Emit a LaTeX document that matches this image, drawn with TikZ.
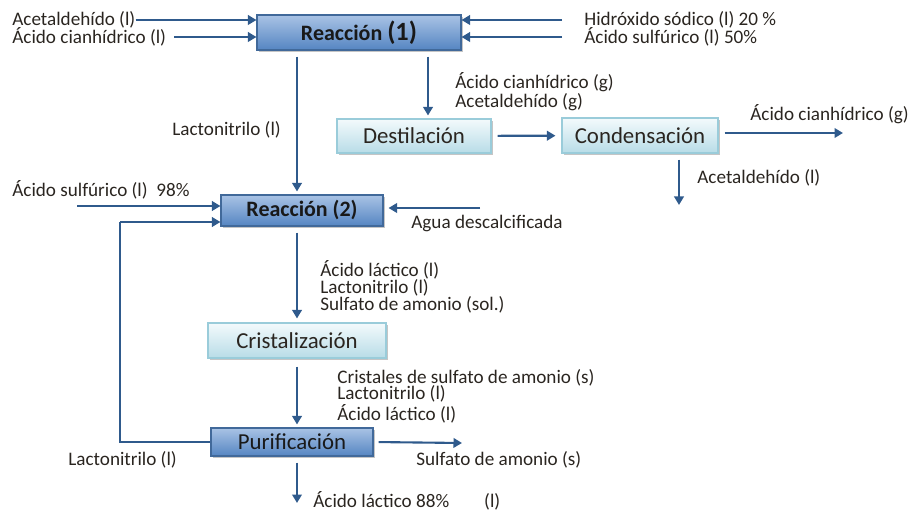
\documentclass[tikz,border=0pt]{standalone}
\usepackage{fontspec}
\setmainfont{Carlito}
\usetikzlibrary{arrows.meta,shadows}
\definecolor{cArr}{HTML}{2F5A8C}
\definecolor{cTop}{HTML}{A9C3E5}
\definecolor{cBot}{HTML}{5585C2}
\definecolor{cEdge}{HTML}{41699A}
\definecolor{cLTop}{HTML}{F3FAFC}
\definecolor{cLBot}{HTML}{B8DCE7}
\definecolor{cLEdge}{HTML}{9ACCDA}
\definecolor{cTxt}{HTML}{2A2520}
\tikzset{
  box/.style={line width=0.6pt, inner sep=0pt, align=center,
    drop shadow={shadow xshift=1pt, shadow yshift=-1.2pt, fill=black!45}},
  proc/.style={box, draw=cEdge, top color=cTop, bottom color=cBot,
    text=black!90, font=\fontsize{12.5}{14}\selectfont\bfseries},
  unit/.style={box, draw=cLEdge, top color=cLTop, bottom color=cLBot,
    text=cTxt, font=\fontsize{13}{15}\selectfont},
  lbl/.style={font=\fontsize{10.9}{9.6}\selectfont, text=cTxt, inner sep=0pt,
    align=left, anchor=west},
  flow/.style={-{Triangle[length=1.7mm,width=1.9mm]}, line width=1.2pt, draw=cArr},
  pipe/.style={line width=1.2pt, draw=cArr},
}
\begin{document}
\begin{tikzpicture}[x=0.2mm, y=-0.2mm]
  \useasboundingbox (0,0) rectangle (921,512);
  % --- units ---
  \node[proc, minimum width=40.8mm, minimum height=7mm] (r1) at (359,32.5)
    {Reacción {\fontsize{15}{15}\selectfont(1)}};
  \node[proc, minimum width=32.4mm, minimum height=6.2mm] (r2) at (302,210.5)
    {Reacción (2)};
  \node[unit, minimum width=30.8mm, minimum height=6.8mm] (des) at (414,136)
    {Destilación};
  \node[unit, minimum width=31.2mm, minimum height=7mm] (con) at (640,135.5)
    {Condensación};
  \node[unit, minimum width=35.6mm, minimum height=7mm] (cri) at (297,340.5)
    {Cristalización};
  \node[proc, font=\fontsize{13}{15}\selectfont, minimum width=32.4mm,
    minimum height=5.6mm] (pur) at (292,442) {Purificación};
  % --- stream labels ---
  \node[lbl] (acet) at (12,20) {Acetaldehído (l)};
  \node[lbl] (cian) at (12,37) {Ácido cianhídrico (l)};
  \node[lbl] (naoh) at (584,20) {Hidróxido sódico (l) 20 \%};
  \node[lbl] (h2so) at (584,37) {Ácido sulfúrico (l) 50\%};
  \node[lbl] (lac1) at (172,130) {Lactonitrilo (l)};
  \node[lbl] (gas)  at (455,92) {Ácido cianhídrico (g)\\Acetaldehído (g)};
  \node[lbl] (hcn)  at (750,114) {Ácido cianhídrico (g)};
  \node[lbl] (acl)  at (697,178) {Acetaldehído (l)};
  \node[lbl] (h98)  at (12,190) {Ácido sulfúrico (l)\ \ 98\%};
  \node[lbl] (agua) at (411,223) {Agua descalcificada};
  \node[lbl] (mix1) at (320,287)
    {Ácido láctico (l)\\Lactonitrilo (l)\\Sulfato de amonio (sol.)};
  \node[lbl] (mix2) at (337,396)
    {Cristales de sulfato de amonio (s)\\Lactonitrilo (l)\\Ácido láctico (l)};
  \node[lbl] (lac2) at (68,460) {Lactonitrilo (l)};
  \node[lbl] (sulf) at (416,460) {Sulfato de amonio (s)};
  \node[lbl] (prod) at (313,501) {Ácido láctico 88\%\hspace{7mm}(l)};
  % --- helper points ---
  \coordinate (xa) at (297,0);
  \coordinate (xb) at (428,0);
  \coordinate (xc) at (679,0);
  \coordinate (hcnout) at (843,133);
  \coordinate (aclout) at (679,205);
  \coordinate (in98) at (77,206);
  \coordinate (inagua) at (480,208);
  \coordinate (loop) at (120,222);
  \coordinate (sulfout) at (462,443);
  \coordinate (prodout) at (297,503);
  % --- feeds to reaction 1 ---
  \draw[flow] (acet.east) -- (r1.west |- acet.east);
  \draw[flow] ([xshift=1.6mm]cian.east) -- (r1.west |- cian.east);
  \draw[flow] ([xshift=-4.4mm]naoh.west) -- (r1.east |- naoh.west);
  \draw[flow] ([xshift=-4.4mm]h2so.west) -- (r1.east |- h2so.west);
  % --- main line ---
  \draw[flow, shorten <=1.2mm, shorten >=0.6mm] (r1.south -| xa) -- (r2.north -| xa);
  \draw[flow, shorten <=1.2mm, shorten >=0.6mm] (r1.south -| xb) -- (des.north -| xb);
  \draw[flow, shorten <=1.2mm, shorten >=1.2mm] (des) -- (con);
  \draw[flow, shorten <=1.2mm] (con.east |- hcnout) -- (hcnout);
  \draw[flow, shorten <=1.2mm] (con.south -| xc) -- (aclout);
  \draw[flow] (in98) -- (r2.west |- in98);
  \draw[flow, shorten >=1mm] (inagua) -- (r2.east |- inagua);
  \draw[flow, shorten <=1.2mm, shorten >=0.8mm] (r2.south -| xa) -- (cri.north -| xa);
  \draw[flow, shorten <=1.6mm, shorten >=0.6mm] (cri.south -| xa) -- (pur.north -| xa);
  % --- recycle ---
  \draw[pipe] (pur.west) -| (loop);
  \draw[flow] (loop) -- (r2.west |- loop);
  % --- products ---
  \draw[flow, shorten <=1mm] (pur.east) -- (sulfout);
  \draw[flow, shorten <=1.2mm] (pur.south -| xa) -- (prodout);
\end{tikzpicture}
\end{document}
